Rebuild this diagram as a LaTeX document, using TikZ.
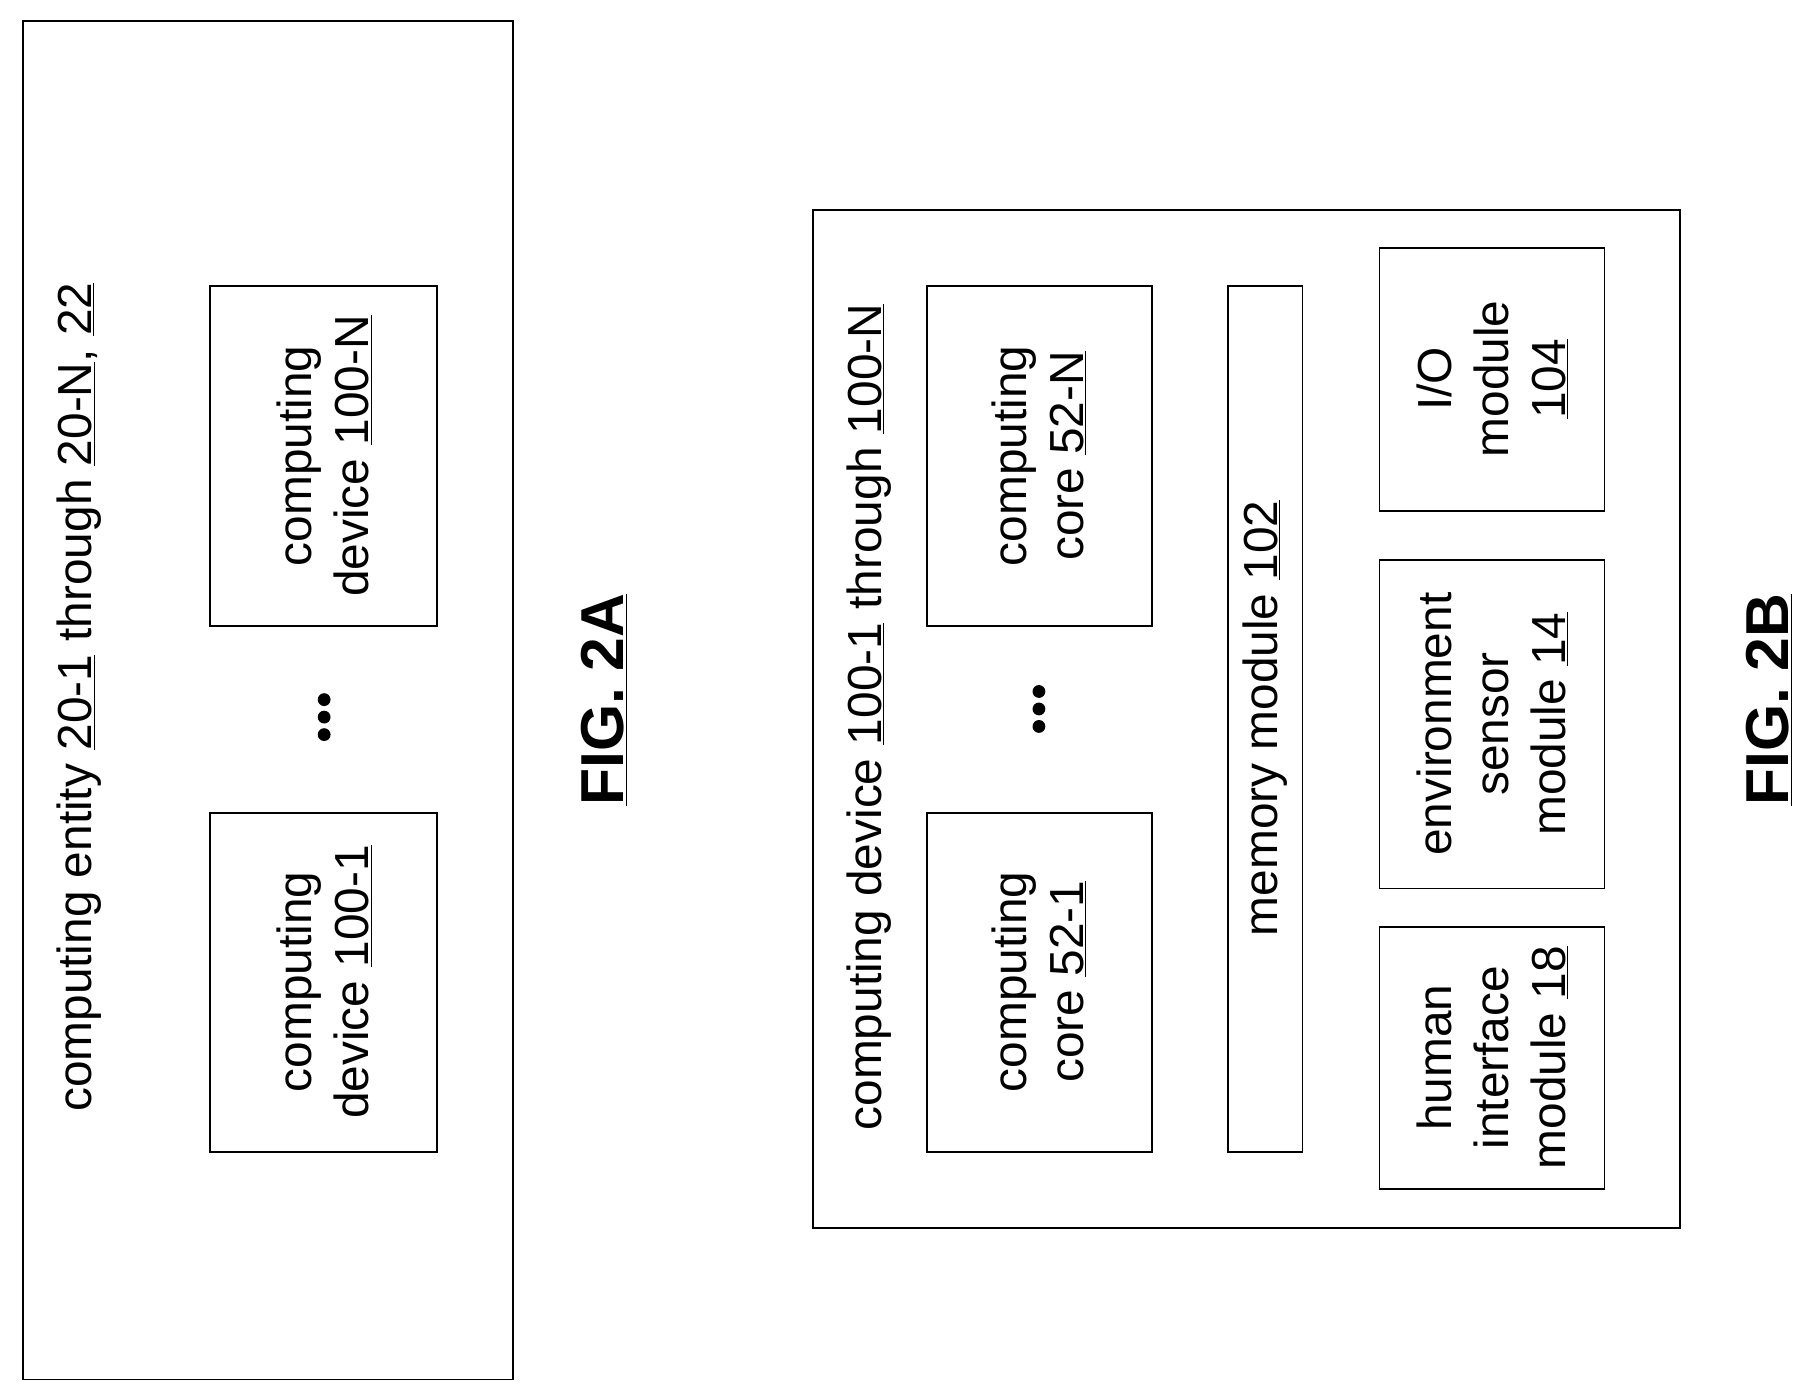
\documentclass[tikz,border=0pt]{standalone}
\usepackage{fontspec}
\setmainfont{Liberation Sans}
\usetikzlibrary{positioning}
\tikzset{
  box/.style={draw, line width=1.5pt},
  lbl/.style={rotate=90, align=center, font=\fontsize{41}{49}\selectfont},
  fig/.style={rotate=90, font=\fontsize{52}{60}\selectfont\bfseries},
  dot/.style={fill, circle, inner sep=0pt, minimum size=11pt}
}
\begin{document}
\begin{tikzpicture}[x=1pt, y=-1pt]
\useasboundingbox (0,0) rectangle (1560,1196);
% FIG. 2A
\draw[box] (20,18) rectangle (440,1183);
\node[lbl] (entity) at (68,598) {computing entity \underline{20-1} through \underline{20-N}, \underline{22}};
\draw[box] (180,697) rectangle (375,988);
\node[lbl] (dev1) at (278,842) {computing\\device \underline{100-1}};
\draw[box] (180,245) rectangle (375,537);
\node[lbl] (devN) at (278,391) {computing\\device \underline{100-N}};
\foreach \y in {600,615,630} \node[dot] at (278,\y) {};
\node[fig] (figA) at (518,600) {\underline{FIG. 2A}};
% FIG. 2B
\draw[box] (697,180) rectangle (1441,1053);
\node[lbl] (device) at (745,615) {computing device \underline{100-1} through \underline{100-N}};
\draw[box] (795,697) rectangle (988,988);
\node[lbl] (core1) at (891,842) {computing\\core \underline{52-1}};
\draw[box] (795,245) rectangle (988,537);
\node[lbl] (coreN) at (891,391) {computing\\core \underline{52-N}};
\foreach \y in {593,608,623} \node[dot] at (891,\y) {};
\draw[box] (1053,245) rectangle (1117,988);
\node[lbl] (mem) at (1085,616) {memory module \underline{102}};
\draw[box] (1183,795) rectangle (1376,1020);
\node[lbl] (hum) at (1280,907) {human\\interface\\module \underline{18}};
\draw[box] (1183,480) rectangle (1376,762);
\node[lbl] (env) at (1280,621) {environment\\sensor\\module \underline{14}};
\draw[box] (1183,213) rectangle (1376,438);
\node[lbl] (io) at (1280,325) {I/O\\module\\\underline{104}};
\node[fig] (figB) at (1517,600) {\underline{FIG. 2B}};
\end{tikzpicture}
\end{document}
